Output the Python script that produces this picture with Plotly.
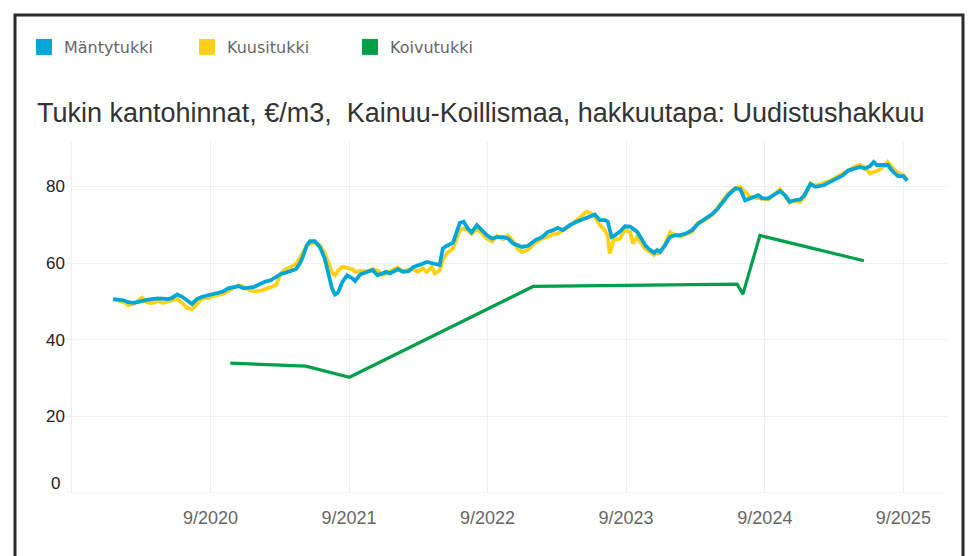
import plotly.graph_objects as go

# ---------------- data ----------------
dates = [
    "2019-12-19", "2020-01-02", "2020-01-15", "2020-01-28", "2020-02-11", "2020-02-24",
    "2020-03-04", "2020-03-17", "2020-03-30", "2020-04-16", "2020-04-29", "2020-05-12",
    "2020-05-22", "2020-06-05", "2020-06-18", "2020-07-01", "2020-07-14", "2020-07-27",
    "2020-08-10", "2020-08-26", "2020-09-14", "2020-10-02", "2020-10-18", "2020-10-31",
    "2020-11-14", "2020-11-27", "2020-12-12", "2020-12-25", "2021-01-11", "2021-01-24",
    "2021-02-06", "2021-02-21", "2021-03-05", "2021-03-18", "2021-04-01", "2021-04-14",
    "2021-04-24", "2021-05-02", "2021-05-13", "2021-05-21", "2021-06-03", "2021-06-16",
    "2021-06-29", "2021-07-07", "2021-07-18", "2021-07-26", "2021-08-03", "2021-08-14",
    "2021-08-27", "2021-09-10", "2021-09-17", "2021-09-30", "2021-10-19", "2021-11-02",
    "2021-11-15", "2021-11-28", "2021-12-08", "2021-12-18", "2022-01-07", "2022-01-22",
    "2022-02-05", "2022-02-18", "2022-03-01", "2022-03-14", "2022-03-25", "2022-04-07",
    "2022-04-15", "2022-04-28", "2022-05-06", "2022-05-16", "2022-06-02", "2022-06-12",
    "2022-06-20", "2022-06-30", "2022-07-11", "2022-07-21", "2022-08-04", "2022-08-17",
    "2022-08-30", "2022-09-13", "2022-09-26", "2022-10-12", "2022-10-25", "2022-11-08",
    "2022-11-18", "2022-12-01", "2022-12-17", "2023-01-05", "2023-01-23", "2023-02-06",
    "2023-02-21", "2023-03-05", "2023-03-18", "2023-04-06", "2023-04-24", "2023-05-10",
    "2023-05-20", "2023-05-31", "2023-06-11", "2023-06-24", "2023-07-07", "2023-07-15",
    "2023-07-20", "2023-07-25", "2023-07-30", "2023-08-16", "2023-08-29", "2023-09-12",
    "2023-09-19", "2023-09-30", "2023-10-11", "2023-10-21", "2023-11-04", "2023-11-14",
    "2023-11-22", "2023-11-30", "2023-12-13", "2023-12-26", "2024-01-09", "2024-01-22",
    "2024-02-05", "2024-02-22", "2024-03-09", "2024-03-27", "2024-04-15", "2024-04-28",
    "2024-05-11", "2024-05-27", "2024-06-15", "2024-06-28", "2024-07-11", "2024-07-24",
    "2024-08-07", "2024-08-15", "2024-08-25", "2024-09-10", "2024-09-23", "2024-10-11",
    "2024-10-24", "2024-11-05", "2024-11-18", "2024-12-03", "2024-12-14", "2024-12-30",
    "2025-01-12", "2025-02-03", "2025-02-20", "2025-03-10", "2025-03-25", "2025-04-08",
    "2025-04-26", "2025-05-09", "2025-05-22", "2025-06-05", "2025-06-15", "2025-06-23",
    "2025-07-09", "2025-07-22", "2025-08-05", "2025-08-18", "2025-09-01", "2025-09-11",
]

mantytukki = [
    50.6, 50.5, 50.3, 49.8, 49.6, 49.9,
    50.2, 50.4, 50.6, 50.8, 50.7, 50.6,
    50.9, 51.8, 51.2, 50.1, 49.3, 50.6,
    51.2, 51.6, 52.1, 52.5, 53.4, 53.8,
    54.0, 53.4, 53.6, 53.8, 54.6, 55.2,
    55.5, 56.4, 57.1, 57.5, 58.0, 58.4,
    59.9, 61.6, 64.7, 65.7, 65.7, 64.2,
    61.2, 58.2, 53.4, 51.8, 52.3, 55.0,
    56.8, 56.0, 55.3, 57.0, 57.7, 58.2,
    56.8, 57.3, 57.7, 57.3, 58.4, 57.7,
    57.9, 59.0, 59.3, 59.8, 60.3, 60.0,
    59.8, 59.5, 63.8, 64.5, 65.3, 68.1,
    70.5, 70.8, 69.0, 68.0, 69.9, 68.6,
    67.3, 66.4, 66.8, 66.8, 66.4, 65.1,
    64.8, 64.2, 64.5, 66.0, 66.8, 68.1,
    68.6, 69.2, 68.6, 69.9, 70.8, 71.5,
    72.0, 72.4, 72.7, 71.2, 71.2, 70.8,
    68.5, 66.8, 67.0, 68.2, 69.6, 69.5,
    69.0, 68.2, 66.5, 64.7, 63.4, 62.7,
    63.4, 62.9, 64.7, 66.8, 67.3, 67.3,
    67.7, 68.6, 70.3, 71.4, 72.8, 74.0,
    75.6, 77.7, 79.5, 79.3, 76.4, 76.9,
    77.3, 77.7, 76.9, 76.9, 77.7, 78.8,
    77.7, 76.0, 76.4, 76.6, 77.7, 80.6,
    79.9, 80.3, 81.2, 82.1, 82.9, 84.1,
    84.7, 85.1, 84.7, 85.3, 86.4, 85.6,
    85.6, 85.6, 83.8, 82.7, 82.7, 81.5,
]

kuusitukki = [
    50.6, 50.3, 49.9, 49.0, 49.3, 50.2,
    51.0, 49.8, 49.5, 50.1, 49.6, 50.0,
    50.2, 50.6, 49.6, 48.3, 48.0, 49.3,
    50.7, 51.0, 51.6, 51.9, 52.8, 53.6,
    54.2, 53.8, 53.0, 52.6, 52.8, 53.2,
    53.8, 54.3, 57.4, 58.4, 59.0, 59.8,
    61.2, 62.5, 64.7, 65.0, 65.3, 64.6,
    62.6, 60.5, 57.5, 56.8, 58.0, 59.0,
    58.8, 58.4, 57.7, 57.9, 57.8, 58.4,
    58.1, 56.9, 57.3, 57.9, 58.8, 57.8,
    58.3, 58.4, 57.7, 58.6, 57.7, 59.0,
    57.3, 58.1, 60.8, 62.5, 63.8, 66.5,
    68.6, 69.0, 68.6, 67.6, 68.8, 67.8,
    66.4, 65.6, 67.1, 66.2, 67.2, 65.6,
    63.8, 62.9, 63.5, 65.3, 66.4, 66.9,
    67.5, 67.7, 68.4, 69.7, 71.2, 72.5,
    73.4, 73.0, 72.0, 69.9, 68.6, 67.0,
    62.5, 64.0, 66.0, 66.4, 68.6, 68.1,
    65.1, 66.8, 65.0, 63.8, 62.9, 62.1,
    62.5, 62.8, 65.0, 68.1, 67.2, 66.9,
    67.5, 68.2, 70.6, 71.2, 72.6, 74.5,
    76.0, 78.2, 79.5, 79.9, 78.5, 77.3,
    77.0, 77.0, 76.8, 76.6, 77.8, 79.2,
    77.6, 75.8, 76.2, 76.0, 77.2, 80.8,
    80.2, 80.8, 81.5, 82.5, 83.4, 84.4,
    85.2, 85.6, 85.0, 83.4, 83.6, 84.0,
    85.0, 86.4, 84.7, 83.6, 83.0, 81.8,
]

koivu_dates = ["2020-10-23", "2021-05-10", "2021-09-02", "2022-12-30",
               "2024-06-20", "2024-07-05", "2024-08-19", "2025-05-20"]
koivutukki = [33.9, 33.1, 30.2, 53.9, 54.5, 51.9, 67.2, 60.6]

series_names = ["Mäntytukki", "Kuusitukki", "Koivutukki"]
series_colors = ["#00A6D6", "#FFD014", "#00A04B"]

grid_dates = ["2019-09-01", "2020-09-01", "2021-09-01", "2022-09-01",
              "2023-09-01", "2024-09-01", "2025-09-01"]
grid_labels = ["", "9/2020", "9/2021", "9/2022", "9/2023", "9/2024", "9/2025"]
y_ticks = [0, 20, 40, 60, 80]

title_text = "Tukin kantohinnat, €/m3,\u00a0 Kainuu-Koillismaa, hakkuutapa: Uudistushakkuu"

# ---------------- figure ----------------
fig = go.Figure()

# data lines (yellow under blue)
fig.add_trace(go.Scatter(x=dates, y=kuusitukki, mode="lines", name=series_names[1],
                         line=dict(color=series_colors[1], width=3.8), showlegend=False,
                         legendgroup="k"))
fig.add_trace(go.Scatter(x=dates, y=mantytukki, mode="lines", name=series_names[0],
                         line=dict(color=series_colors[0], width=3.8), showlegend=False,
                         legendgroup="m"))
fig.add_trace(go.Scatter(x=koivu_dates, y=koivutukki, mode="lines", name=series_names[2],
                         line=dict(color=series_colors[2], width=3.2), showlegend=False,
                         legendgroup="b"))

# legend entries with square swatches
for nm, col, grp in zip(series_names, series_colors, ["m", "k", "b"]):
    fig.add_trace(go.Scatter(x=[None], y=[None], mode="markers", name=nm, legendgroup=grp,
                             marker=dict(symbol="square", size=19, color=col),
                             showlegend=True))

W, H = 977, 556
L, R, T, B = 66, 30, 142, 63
pw = W - L - R
ph = H - T - B

def px_x(p):
    return (p - L) / pw

def px_y(p):
    return (H - B - p) / ph

fig.update_layout(
    width=W, height=H,
    margin=dict(l=L, r=R, t=T, b=B),
    paper_bgcolor="white", plot_bgcolor="white",
    font=dict(family="Liberation Sans, Arial, sans-serif", color="#333333"),
    title=dict(text=title_text, x=37 / W, xanchor="left", xref="container",
               y=1 - 113 / H, yanchor="middle", yref="container",
               font=dict(size=27, color="#333333", family="Liberation Sans, Arial, sans-serif")),
    legend=dict(orientation="h", x=px_x(24), xanchor="left", y=px_y(47), yanchor="middle",
                entrywidth=118, entrywidthmode="pixels", itemsizing="trace",
                font=dict(size=16, color="#666666", family="DejaVu Sans, sans-serif"),
                bgcolor="rgba(0,0,0,0)", traceorder="normal"),
    showlegend=True,
    hovermode=False,
    xaxis=dict(
        type="date",
        range=["2019-08-17", "2025-12-25"],
        tickvals=grid_dates, ticktext=grid_labels,
        showgrid=True, gridcolor="#EFEFEF", gridwidth=1,
        zeroline=False, showline=False, ticks="",
        tickfont=dict(size=18, color="#666666", family="Liberation Sans Narrow, Liberation Sans, sans-serif"),
        ticklabelstandoff=12,
    ),
    yaxis=dict(
        range=[0, 91.6],
        tickvals=y_ticks, ticktext=["", "20", "40", "60", "80"],
        showgrid=True, gridcolor="#EFEFEF", gridwidth=1,
        zeroline=False, showline=False, ticks="",
        tickfont=dict(size=17, color="#222222", family="Liberation Sans, Arial, sans-serif"),
    ),
    shapes=[
        dict(type="path", xref="paper", yref="paper",
             path=f"M {px_x(15)},{px_y(570)} L {px_x(15)},{px_y(15)} L {px_x(963)},{px_y(15)} L {px_x(963)},{px_y(570)}",
             line=dict(color="#2B2B2B", width=3), layer="above"),
        dict(type="line", xref="paper", yref="y", x0=0, x1=1, y0=0, y1=0,
             line=dict(color="#EFEFEF", width=1), layer="below"),
    ],
    annotations=[
        dict(text="0", xref="paper", yref="y", x=px_x(62), y=0, xanchor="right",
             yanchor="middle", yshift=10, showarrow=False,
             font=dict(size=17, color="#222222", family="Liberation Sans, Arial, sans-serif")),
    ],
)

fig.write_html("out.html", config={"displayModeBar": False},
               post_script="document.body.style.margin='0';document.body.style.overflow='hidden';")
